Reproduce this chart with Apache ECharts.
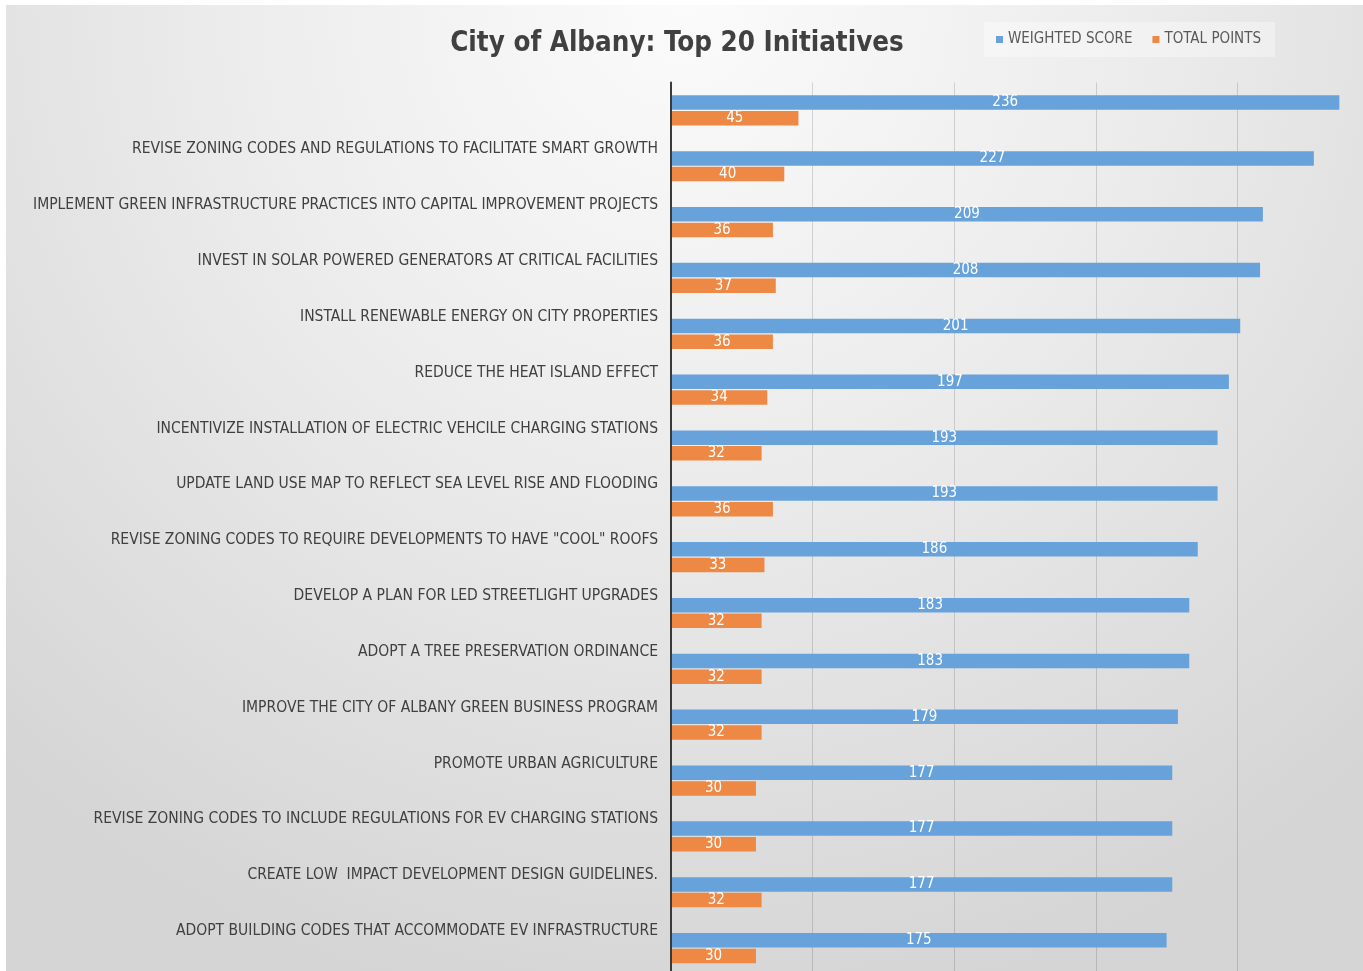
<!DOCTYPE html>
<html>
<head>
<meta charset="utf-8">
<script src="https://cdn.jsdelivr.net/npm/echarts@6/dist/echarts.min.js"></script>
<style>
html,body{margin:0;padding:0;background:#ffffff;width:1363px;height:971px;overflow:hidden;}
#chart{position:absolute;left:6px;top:5px;width:1357px;height:966px;}
</style>
</head>
<body>
<div id="chart"></div>
<script>
const categories = [
  '',
  'REVISE ZONING CODES AND REGULATIONS TO FACILITATE SMART GROWTH',
  'IMPLEMENT GREEN INFRASTRUCTURE PRACTICES INTO CAPITAL IMPROVEMENT PROJECTS',
  'INVEST IN SOLAR POWERED GENERATORS AT CRITICAL FACILITIES',
  'INSTALL RENEWABLE ENERGY ON CITY PROPERTIES',
  'REDUCE THE HEAT ISLAND EFFECT',
  'INCENTIVIZE INSTALLATION OF ELECTRIC VEHCILE CHARGING STATIONS',
  'UPDATE LAND USE MAP TO REFLECT SEA LEVEL RISE AND FLOODING',
  'REVISE ZONING CODES TO REQUIRE DEVELOPMENTS TO HAVE "COOL" ROOFS',
  'DEVELOP A PLAN FOR LED STREETLIGHT UPGRADES',
  'ADOPT A TREE PRESERVATION ORDINANCE',
  'IMPROVE THE CITY OF ALBANY GREEN BUSINESS PROGRAM',
  'PROMOTE URBAN AGRICULTURE',
  'REVISE ZONING CODES TO INCLUDE REGULATIONS FOR EV CHARGING STATIONS',
  'CREATE LOW  IMPACT DEVELOPMENT DESIGN GUIDELINES.',
  'ADOPT BUILDING CODES THAT ACCOMMODATE EV INFRASTRUCTURE'
];
const weightedScore = [236, 227, 209, 208, 201, 197, 193, 193, 186, 183, 183, 179, 177, 177, 177, 175];
const totalPoints   = [45, 40, 36, 37, 36, 34, 32, 36, 33, 32, 32, 32, 30, 30, 32, 30];
const seriesNames = ['WEIGHTED SCORE', 'TOTAL POINTS'];
const titleText = 'City of Albany: Top 20 Initiatives';

const FONT = '"Liberation Sans Narrow", "DejaVu Sans Condensed", sans-serif';
const chart = echarts.init(document.getElementById('chart'), null, {renderer: 'canvas'});
const option = {
  backgroundColor: {
    type: 'radial', x: 0.5, y: 0.0, r: 1.05,
    colorStops: [
      {offset: 0, color: '#fbfbfb'},
      {offset: 0.45, color: '#ececec'},
      {offset: 1, color: '#d5d5d5'}
    ]
  },
  animation: false,
  title: {
    text: titleText,
    left: 666, top: 20,
    textAlign: 'center',
    textStyle: {fontFamily: FONT, fontWeight: 'bold', fontSize: 27.5, color: '#404040'}
  },
  legend: {
    data: seriesNames,
    left: 978, top: 17,
    padding: [10, 14, 10, 12],
    backgroundColor: 'rgba(255,255,255,0.35)',
    icon: 'rect', itemWidth: 7, itemHeight: 7, itemGap: 20,
    textStyle: {fontFamily: FONT, fontSize: 15, color: '#595959'}
  },
  grid: {
    left: 665, right: -16, top: 77.5, bottom: -5,
    containLabel: false,
    outerBoundsMode: 'none'
  },
  xAxis: {
    type: 'value', min: 0, max: 250, interval: 50,
    axisLabel: {show: false},
    axisLine: {show: false},
    axisTick: {show: false},
    splitLine: {show: true, lineStyle: {color: 'rgba(0,0,0,0.14)', width: 1}}
  },
  yAxis: {
    type: 'category', data: categories, inverse: true, z: 10,
    axisLine: {show: true, lineStyle: {color: '#3a3a3a', width: 2}},
    axisTick: {show: false},
    axisLabel: {
      interval: 0, margin: 13,
      fontFamily: FONT, fontSize: 15.5, color: '#404040',
      verticalAlign: 'bottom', lineHeight: 34
    }
  },
  series: [
    {
      name: seriesNames[0], type: 'bar', data: weightedScore,
      barWidth: 14.5, barGap: '8%',
      itemStyle: {color: '#68a2da'},
      label: {show: true, position: 'inside', color: '#ffffff', fontFamily: FONT, fontSize: 15}
    },
    {
      name: seriesNames[1], type: 'bar', data: totalPoints,
      barWidth: 14.5,
      itemStyle: {color: '#ee8945'},
      label: {show: true, position: 'inside', color: '#ffffff', fontFamily: FONT, fontSize: 15}
    }
  ]
};
chart.setOption(option);
</script>
</body>
</html>
